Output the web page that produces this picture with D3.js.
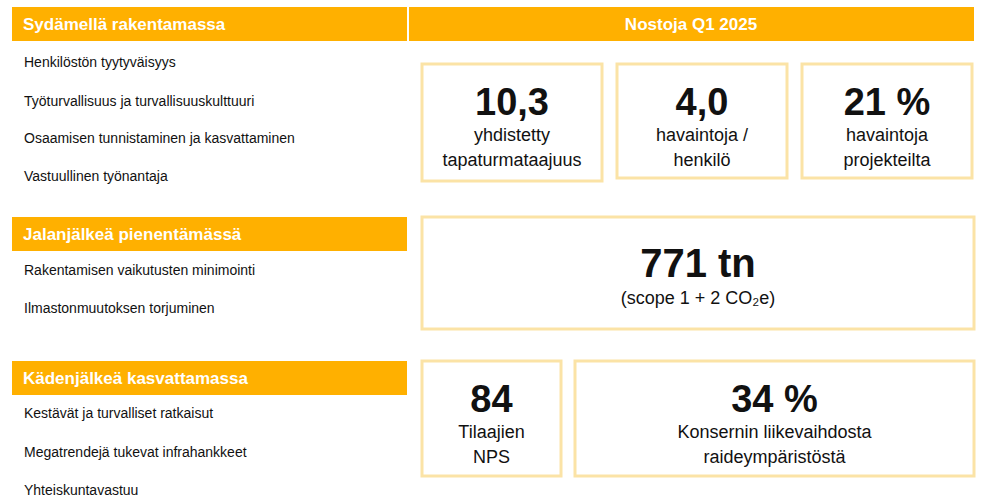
<!DOCTYPE html>
<html><head><meta charset="utf-8">
<script src="https://cdn.jsdelivr.net/npm/d3@7"></script>
<style>body{margin:0;background:#fff;font-family:"Liberation Sans",Arial,sans-serif;}</style>
</head><body><svg id="c" width="989" height="501"></svg>
<script>
"use strict";
const orange = "#FFB000", border = "#FBE3A6";

const sections = ["Sydämellä rakentamassa", "Jalanjälkeä pienentämässä", "Kädenjälkeä kasvattamassa"];
const sectionItems = [
	["Henkilöstön tyytyväisyys", "Työturvallisuus ja turvallisuuskulttuuri", "Osaamisen tunnistaminen ja kasvattaminen", "Vastuullinen työnantaja"],
	["Rakentamisen vaikutusten minimointi", "Ilmastonmuutoksen torjuminen"],
	["Kestävät ja turvalliset ratkaisut", "Megatrendejä tukevat infrahankkeet", "Yhteiskuntavastuu"]
];
const headerRight = "Nostoja Q1 2025";
// key figures: value, caption lines, section index
const kpiValues = ["10,3", "4,0", "21 %", "771 tn", "84", "34 %"];
const kpiCaptions = [
	["yhdistetty", "tapaturmataajuus"],
	["havaintoja /", "henkilö"],
	["havaintoja", "projekteilta"],
	["(scope 1 + 2 CO₂e)"],
	["Tilaajien", "NPS"],
	["Konsernin liikevaihdosta", "raideympäristöstä"]
];
const kpiSection = [0, 0, 0, 1, 2, 2];

const svg = d3.select("#c");
const sectionY = [7, 217, 361];   // top of each section
const itemY = [[62, 101, 138, 176], [270, 308], [413, 452, 490]];
// box layout per kpi: x0, x1, top offset, bottom offset
const boxes = [[422, 602, 64, 181], [617, 787, 64, 178], [802, 972, 64, 178],
	[422, 974, 217, 329], [422, 561, 361, 476], [575, 974, 361, 476]];

// section headers
sections.forEach(function(s, i) {
	svg.append("rect").attr("x", 12).attr("y", sectionY[i]).attr("width", 395).attr("height", 34).attr("fill", orange);
	svg.append("text").attr("x", 23).attr("y", sectionY[i] + 23).attr("fill", "#fff")
		.attr("font-size", 17).attr("font-weight", "bold").text(s);
	sectionItems[i].forEach(function(t, j) {
		svg.append("text").attr("x", 24).attr("y", itemY[i][j] + 5).attr("font-size", 14).attr("fill", "#111").text(t);
	});
});
svg.append("rect").attr("x", 409).attr("y", 7).attr("width", 565).attr("height", 34).attr("fill", orange);
svg.append("text").attr("x", 691).attr("y", 30).attr("text-anchor", "middle").attr("fill", "#fff")
	.attr("font-size", 17).attr("font-weight", "bold").text(headerRight);

kpiValues.forEach(function(v, i) {
	const b = boxes[i], cx = (b[0] + b[1]) / 2;
	svg.append("rect").attr("x", b[0]).attr("y", b[2]).attr("width", b[1] - b[0]).attr("height", b[3] - b[2])
		.attr("fill", "none").attr("stroke", border).attr("stroke-width", 3);
	const top = b[2];
	const big = i === 3 ? 40 : 38;
	const vy = i === 3 ? top + 60 : top + 51;
	svg.append("text").attr("x", cx).attr("y", vy).attr("text-anchor", "middle")
		.attr("font-size", big).attr("font-weight", "bold").attr("fill", "#111").text(v);
	kpiCaptions[i].forEach(function(c, j) {
		svg.append("text").attr("x", cx).attr("y", (i === 3 ? top + 87 : top + 77) + j * 25).attr("text-anchor", "middle")
			.attr("font-size", 18).attr("fill", "#111").text(c);
	});
});
</script></body></html>
